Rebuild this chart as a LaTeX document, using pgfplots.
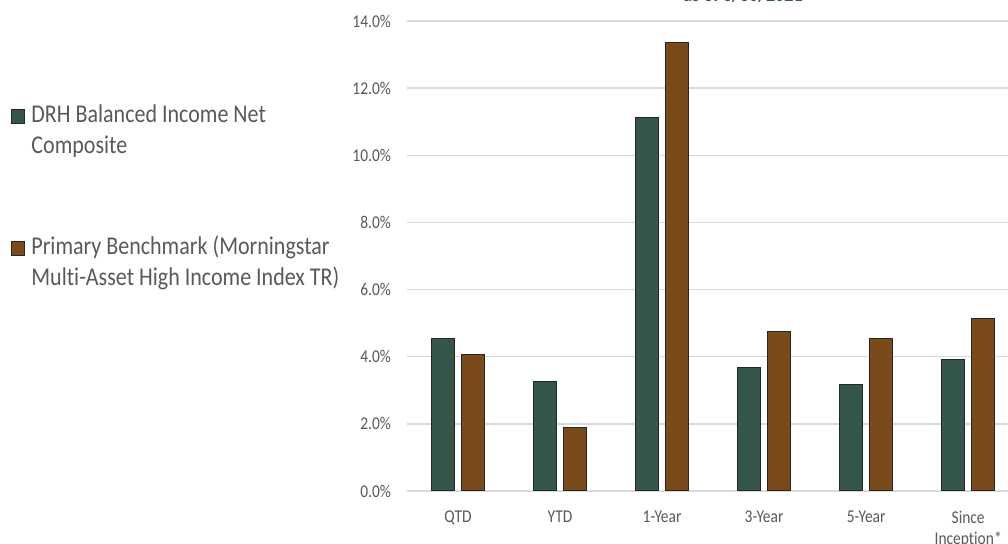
\documentclass[border=0pt]{standalone}
\usepackage{pgfplots}
\pgfplotsset{compat=1.18}
\usepackage{fontspec}
\setmainfont{Carlito}[FakeStretch=0.86, Ligatures=NoCommon]
\definecolor{drhgreen}{HTML}{35574B}
\definecolor{benchbrown}{HTML}{7B4A1A}
\definecolor{txtgray}{HTML}{595959}
\definecolor{gridgray}{HTML}{D9D9D9}
\definecolor{titlegreen}{HTML}{2F5E4C}
\begin{document}
\begin{tikzpicture}
\begin{axis}[
  scale only axis, width=300.5pt, height=235pt,
  at={(0,0)}, anchor=south west,
  xmin=-0.5, xmax=5.39, ymin=0, ymax=14,
  ytick={0,2,...,14},
  xtick={0,1,2,3,4,5},
  xticklabels={QTD,YTD,1-Year,3-Year,5-Year,{Since\\Inception*}},
  ymajorgrids, grid style={gridgray, line width=0.75pt},
  axis line style={draw=none}, major tick length=0pt,
  /pgf/number format/assume math mode=true,
  tick label style={font=\fontsize{9}{10.5}\selectfont, text=txtgray},
  xticklabel style={align=center, yshift=-6.5pt},
  yticklabel style={xshift=-4.5pt},
  yticklabel={\pgfmathprintnumber[fixed,fixed zerofill,precision=1]{\tick}\%},
  ybar, bar width=11.5pt,
  legend style={at={(-0.6597,0.823)}, anchor=north west, draw=none, fill=none,
    inner sep=0pt, row sep=55pt, font=\fontsize{12.8}{15.5}\selectfont, text=txtgray,
    nodes={inner sep=0pt}, cells={anchor=base west}},
  legend image code/.code={\draw[#1, line width=0.5pt] (0pt,-0.5pt) rectangle (6.75pt,6.25pt);},
]
\addplot[ybar, bar shift=-7.5pt, fill=drhgreen, draw=black!85, line width=0.5pt]
  coordinates {(0,4.55) (1,3.25) (2,11.13) (3,3.69) (4,3.18) (5,3.93)};
\addlegendentry{\hspace{3pt}\parbox[t]{180pt}{DRH Balanced Income Net\\Composite}}
\addplot[ybar, bar shift=7.5pt, fill=benchbrown, draw=black!85, line width=0.5pt]
  coordinates {(0,4.08) (1,1.90) (2,13.35) (3,4.74) (4,4.53) (5,5.15)};
\addlegendentry{\hspace{3pt}\parbox[t]{180pt}{Primary Benchmark (Morningstar\\Multi-Asset High Income Index TR)}}
\end{axis}
\node[anchor=base, font=\bfseries\fontsize{10.5}{12}\selectfont, text=titlegreen] at (168pt,244.5pt) {as of 6/30/2021};
\pgfresetboundingbox
\path[use as bounding box] (-203.5pt,-26.5pt) rectangle (300.5pt,245.5pt);
\end{tikzpicture}
\end{document}
